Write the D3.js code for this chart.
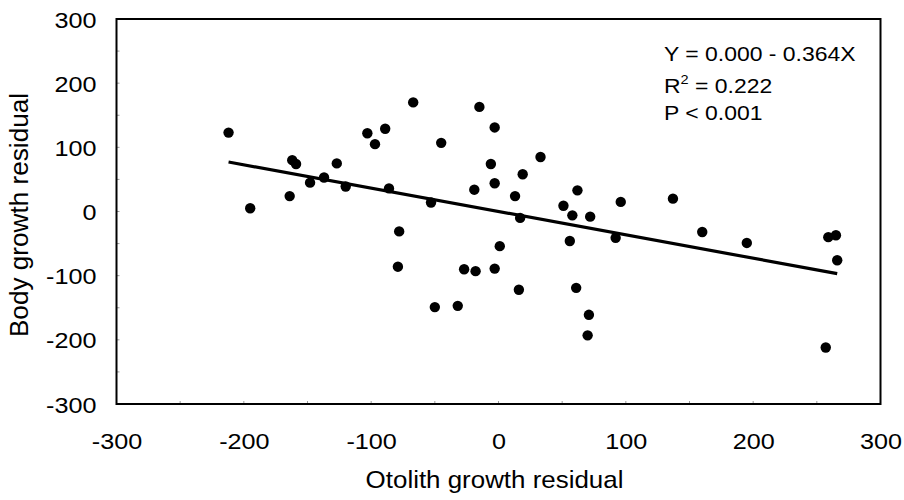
<!DOCTYPE html>
<html>
<head>
<meta charset="utf-8">
<script src="https://cdn.jsdelivr.net/npm/d3@7"></script>
<style>
  html, body { margin: 0; padding: 0; background: #fff; }
  svg { display: block; }
  text { font-family: "Liberation Sans", Arial, sans-serif; fill: #000; }
</style>
</head>
<body>
<svg id="chart" width="904" height="500"></svg>
<script>
// Otolith growth residual (x) and body growth residual (y)
const otolithResidual = [
  -212, -195, -162, -159, -164, -148, -137, -127, -120, -103,
  -89, -97, -86, -78, -79, -67, -45, -15, -3, -6,
  -3, -19, 19, 33, 13, -53, 17, 62, 51, 58,
  72, 1, -27, -18, -3, 16, -50, -32, 56, 61,
  71, 70, 96, 137, 92, 160, 195, 259, 265, 266, 257
];
const bodyResidual = [
  123, 5, 80, 74, 24, 45, 53, 75, 39, 122,
  129, 105, 36, -31, -86, 170, 107, 163, 131, 74,
  44, 34, 58, 85, 24, 14, -10, 33, 9, -6,
  -8, -54, -90, -93, -89, -122, -149, -147, -46, -119,
  -161, -193, 15, 20, -41, -32, -49, -40, -37, -76, -212
];
const xTicks = [-300, -200, -100, 0, 100, 200, 300];
const yTicks = [-300, -200, -100, 0, 100, 200, 300];
const minorTicks = [-250, -150, -50, 50, 150, 250];
const intercept = 0.000;
const slope = -0.364;
const xTitle = "Otolith growth residual";
const yTitle = "Body growth residual";
const statLines = ["Y = 0.000 - 0.364X", "R", "P < 0.001"];

const svg = d3.select("#chart");
const pLeft = 116.5, pRight = 880.5, pTop = 19, pBottom = 404;
const x = d3.scaleLinear().domain([-300, 300]).range([pLeft, pRight]);
const y = d3.scaleLinear().domain([-300, 300]).range([pBottom, pTop]);
const fmt = d => String(d); // plain hyphen-minus as in the original

// Faint inner ticks
const tickG = svg.append("g").attr("stroke", "#999").attr("stroke-width", 1);
[...xTicks, ...minorTicks].forEach(v => {
  tickG.append("line").attr("x1", x(v)).attr("x2", x(v)).attr("y1", pBottom).attr("y2", pBottom - 3);
  tickG.append("line").attr("y1", y(v)).attr("y2", y(v)).attr("x1", pLeft).attr("x2", pLeft + 3);
});

// Frame
svg.append("rect")
  .attr("x", pLeft).attr("y", pTop)
  .attr("width", pRight - pLeft).attr("height", pBottom - pTop)
  .attr("fill", "none").attr("stroke", "#000").attr("stroke-width", 2);

const sx = 1.12;
const xAxis = svg.append("g").attr("transform", `translate(0,${pBottom})`)
  .call(d3.axisBottom(x).tickValues(xTicks).tickSize(0).tickPadding(0).tickFormat(fmt));
xAxis.select(".domain").remove();
xAxis.selectAll("text")
  .attr("dy", null).attr("y", 0)
  .attr("transform", `translate(0,45) scale(${sx},1)`)
  .attr("font-size", 22.5).attr("font-family", "Liberation Sans, Arial, sans-serif")
  .attr("text-anchor", "middle");

const yAxis = svg.append("g").attr("transform", `translate(${pLeft},0)`)
  .call(d3.axisLeft(y).tickValues(yTicks).tickSize(0).tickPadding(0).tickFormat(fmt));
yAxis.select(".domain").remove();
yAxis.selectAll("text")
  .attr("x", 0).attr("dy", "0.36em")
  .attr("transform", `translate(-20,0) scale(${sx},1)`)
  .attr("font-size", 22.5).attr("font-family", "Liberation Sans, Arial, sans-serif")
  .attr("text-anchor", "end");

// Regression line
const xMin = d3.min(otolithResidual), xMax = d3.max(otolithResidual);
svg.append("line")
  .attr("x1", x(xMin)).attr("y1", y(intercept + slope * xMin))
  .attr("x2", x(xMax)).attr("y2", y(intercept + slope * xMax))
  .attr("stroke", "#000").attr("stroke-width", 3.2);

// Points
svg.append("g").selectAll("circle")
  .data(otolithResidual.map((v, i) => [v, bodyResidual[i]]))
  .join("circle")
  .attr("cx", d => x(d[0])).attr("cy", d => y(d[1]))
  .attr("r", 5.2).attr("fill", "#000");

// Stats annotation
const ann = svg.append("g").attr("font-size", 20.5);
ann.append("text").attr("transform", `translate(664,61) scale(${sx},1)`).text(statLines[0]);
const r2 = ann.append("text").attr("transform", `translate(664,92.5) scale(${sx},1)`);
r2.append("tspan").text("R");
r2.append("tspan").attr("font-size", 13).attr("dy", -9).text("2");
r2.append("tspan").attr("dy", 9).text(" = 0.222");
ann.append("text").attr("transform", `translate(664,120) scale(${sx},1)`).text(statLines[2]);

// Axis titles
svg.append("text")
  .attr("transform", `translate(494.5,488) scale(1.08,1)`)
  .attr("text-anchor", "middle").attr("font-size", 24).text(xTitle);
svg.append("text")
  .attr("transform", `translate(28,215) rotate(-90) scale(1.09,1.1)`)
  .attr("text-anchor", "middle").attr("font-size", 24).text(yTitle);
</script>
</body>
</html>
